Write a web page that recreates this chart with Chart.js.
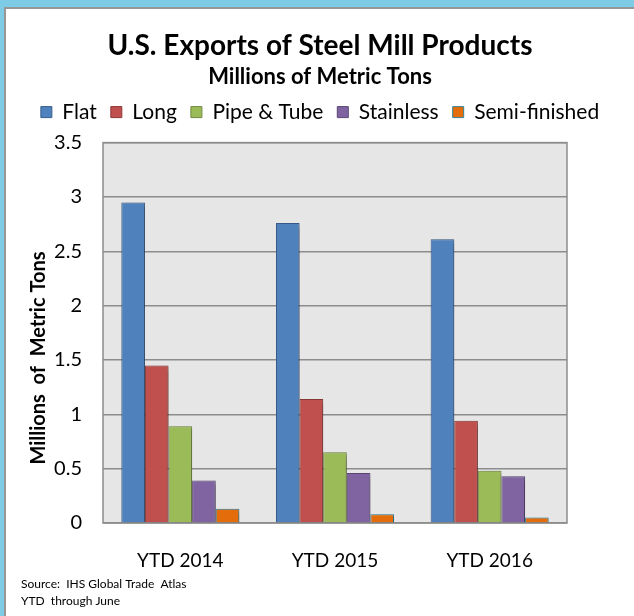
<!DOCTYPE html>
<html lang="en">
<head>
    <meta charset="UTF-8">
    <title>U.S. Exports of Steel Mill Products</title>
    <script src="https://cdn.jsdelivr.net/npm/chart.js@4.4.1/dist/chart.umd.min.js"></script>
    <style>
        body { margin: 0; background: #7ecbe5; }
        #box {
            position: absolute; left: 4px; top: 7px; width: 628px; height: 607px;
            background: #fff; border-left: 2px solid #979797; border-top: 2px solid #979797;
        }
    </style>
</head>
<body>
    <div id="box">
        <canvas id="chart" width="628" height="607"></canvas>
    </div>

    <script>
        // values, millions of metric tons
        var categories = ["YTD 2014", "YTD 2015", "YTD 2016"]
        var flat = [2.95, 2.76, 2.61]
        var long = [1.45, 1.14, 0.94]
        var pipeTube = [0.89, 0.65, 0.48]
        var stainless = [0.39, 0.46, 0.43]
        var semiFinished = [0.13, 0.08, 0.05]
        var yTickValues = [0, 0.5, 1, 1.5, 2, 2.5, 3, 3.5]

        var titleText = "U.S. Exports of Steel Mill Products"
        var subtitleText = "Millions of Metric Tons"
        var yAxisTitle = "Millions  of  Metric Tons"
        var sourceLines = ["Source:  IHS Global Trade  Atlas", "YTD  through June"]
    </script>

    <script>
        Chart.defaults.font.family = "Lato, sans-serif";
        Chart.defaults.color = "#000";

        // grey plot area, frame, bar shadows, rotated axis title and source note
        var chartDecor = {
            id: 'chartDecor',
            beforeInit: function(chart) {
                var fit = chart.legend.fit;
                chart.legend.fit = function() {
                    fit.call(this);
                    this.height += 10;
                };
            },
            beforeDraw: function(chart) {
                var ctx = chart.ctx, a = chart.chartArea;
                ctx.save();
                ctx.fillStyle = '#e6e6e6';
                ctx.fillRect(a.left, a.top, a.right - a.left, a.bottom - a.top);
                ctx.restore();
            },
            beforeDatasetsDraw: function(chart) {
                var ctx = chart.ctx, a = chart.chartArea;
                ctx.save();
                ctx.strokeStyle = '#8c8c8c';
                ctx.lineWidth = 1.5;
                ctx.strokeRect(a.left, a.top, a.right - a.left, a.bottom - a.top);
                ctx.shadowColor = 'rgba(0,0,0,0.35)';
                ctx.shadowBlur = 5;
                ctx.shadowOffsetX = 3;
                ctx.shadowOffsetY = 2;
            },
            afterDatasetsDraw: function(chart) {
                chart.ctx.restore();
            },
            afterDraw: function(chart) {
                var ctx = chart.ctx;
                ctx.save();
                ctx.fillStyle = '#000';
                ctx.font = 'bold 20px Lato';
                ctx.textAlign = 'center';
                ctx.textBaseline = 'middle';
                ctx.translate(33, 349);
                ctx.rotate(-Math.PI / 2);
                ctx.fillText(yAxisTitle, 0, 0);
                ctx.restore();

                ctx.save();
                ctx.fillStyle = '#000';
                ctx.font = '12px Lato';
                ctx.textBaseline = 'middle';
                for (var i = 0; i < sourceLines.length; i++) {
                    ctx.fillText(sourceLines[i], 15, 575 + i * 17);
                }
                ctx.restore();
            }
        };

        var ctx = document.getElementById('chart').getContext('2d');
        var myChart = new Chart(ctx, {
            type: 'bar',
            data: {
                labels: categories,
                datasets: [{
                    label: "Flat",
                    data: flat,
                    backgroundColor: "#4f81bd",
                    borderColor: "#385d8a"
                },
                {
                    label: "Long",
                    data: long,
                    backgroundColor: "#c0504d",
                    borderColor: "#8c3836"
                },
                {
                    label: "Pipe & Tube",
                    data: pipeTube,
                    backgroundColor: "#9bbb59",
                    borderColor: "#71893f"
                },
                {
                    label: "Stainless",
                    data: stainless,
                    backgroundColor: "#8064a2",
                    borderColor: "#5c4776"
                },
                {
                    label: "Semi-finished",
                    data: semiFinished,
                    backgroundColor: "#e46c0a",
                    borderColor: "#31859c"
                }]
            },
            options: {
                responsive: false,
                animation: false,
                layout: { padding: { top: 20, left: 0, right: 0, bottom: 0 } },
                datasets: {
                    bar: { borderWidth: 1, categoryPercentage: 0.763, barPercentage: 1 }
                },
                plugins: {
                    title: {
                        display: true,
                        text: titleText,
                        font: { size: 28, weight: 'bold' },
                        padding: { top: 0, bottom: 0 }
                    },
                    subtitle: {
                        display: true,
                        text: subtitleText,
                        color: '#000',
                        font: { size: 22, weight: 'bold', lineHeight: 1 },
                        padding: { top: 3, bottom: 0 }
                    },
                    legend: {
                        labels: {
                            boxWidth: 11,
                            boxHeight: 11,
                            padding: 14,
                            font: { size: 21 }
                        }
                    },
                    tooltip: { enabled: false }
                },
                scales: {
                    x: {
                        grid: { display: false },
                        border: { display: false },
                        ticks: { font: { size: 19 }, padding: 18 },
                        afterFit: function(scale) { scale.height = 93; }
                    },
                    y: {
                        min: 0,
                        max: 3.5,
                        grid: { color: '#8c8c8c', lineWidth: 1.5, drawTicks: false },
                        border: { display: false },
                        ticks: {
                            font: { size: 20 },
                            padding: 21,
                            callback: function(v) { return String(v); }
                        },
                        afterBuildTicks: function(scale) {
                            scale.ticks = yTickValues.map(function(v) { return { value: v }; });
                        },
                        afterFit: function(scale) { scale.width = 97; }
                    },
                    // empty right-hand axis that keeps the plot clear of the right edge
                    yRight: {
                        position: 'right',
                        grid: { display: false },
                        border: { display: false },
                        ticks: { display: false },
                        afterFit: function(scale) { scale.width = 67; }
                    }
                }
            },
            plugins: [chartDecor]
        });
    </script>
</body>
</html>
